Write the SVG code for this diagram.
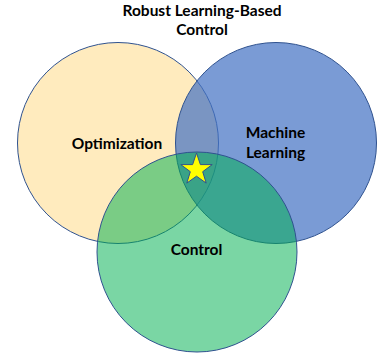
<svg xmlns="http://www.w3.org/2000/svg" width="382" height="353" viewBox="0 0 382 353">
  <style>
    .set { stroke: #2F528F; stroke-width: 1; }
    .label { font-family: Lato, "Open Sans", "Liberation Sans", sans-serif; font-weight: bold; font-size: 15.5px; fill: #000; text-anchor: middle; }
  </style>
  <rect width="382" height="353" fill="#fff"/>

  <g id="title">
    <text class="label" x="202" y="16">Robust Learning-Based</text>
    <text class="label" x="202" y="35">Control</text>
  </g>

  <g id="optimization">
    <circle class="set" cx="118" cy="143" r="100.5" fill="#FFEBBE"/>
  </g>
  <g id="machine-learning">
    <circle class="set" cx="276" cy="143" r="100.5" fill="#4472C4" fill-opacity="0.71"/>
  </g>
  <g id="control">
    <circle class="set" cx="197" cy="252" r="100" fill="#00B050" fill-opacity="0.52"/>
  </g>

  <g id="labels">
    <text class="label" x="117" y="149">Optimization</text>
    <text class="label" x="275.5" y="138">Machine</text>
    <text class="label" x="275.5" y="158">Learning</text>
    <text class="label" x="196.5" y="255">Control</text>
  </g>

  <g id="intersection-star">
    <polygon points="196.5,153 200.4,164.6 212.2,164.6 202.7,171.7 206.2,183.1 196.5,176.2 186.8,183.1 190.3,171.7 180.8,164.6 192.6,164.6" fill="#FFFF00" stroke="#2F528F" stroke-width="1" stroke-linejoin="miter"/>
  </g>
</svg>
